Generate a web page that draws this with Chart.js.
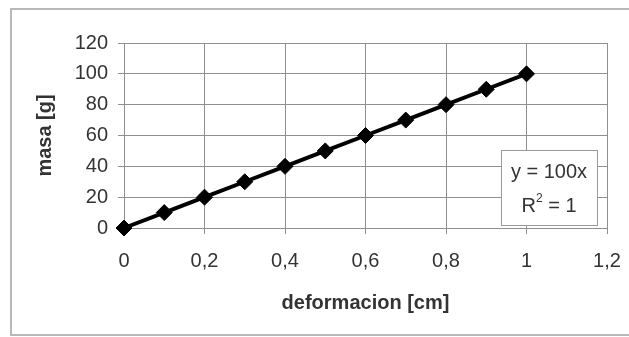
<!DOCTYPE html>
<html>
<head>
<meta charset="utf-8">
<script src="https://cdn.jsdelivr.net/npm/chart.js@4"></script>
<style>
  body { margin: 0; background: #fff; }
  canvas { display: block; }
</style>
</head>
<body>
<canvas id="chart" width="629" height="337"></canvas>
<script>
// deformacion [cm] vs masa [g]
const deformacion = [0, 0.1, 0.2, 0.3, 0.4, 0.5, 0.6, 0.7, 0.8, 0.9, 1];
const masa = [0, 10, 20, 30, 40, 50, 60, 70, 80, 90, 100];
const xTickLabels = ['0', '0,2', '0,4', '0,6', '0,8', '1', '1,2'];
const yTickLabels = ['0', '20', '40', '60', '80', '100', '120'];
const trendText = ['y = 100x', 'R', '2', ' = 1'];

Chart.defaults.font.family = '"Liberation Sans", Arial, sans-serif';
Chart.defaults.color = '#333';

const gridColor = '#8f8f8f';

// outer chart frame
const framePlugin = {
    id: 'frame',
    beforeDraw(chart) {
        const ctx = chart.ctx;
        ctx.save();
        ctx.strokeStyle = '#b8b8b8';
        ctx.lineWidth = 2;
        ctx.strokeRect(11, 9, chart.width + 20, chart.height - 11);
        ctx.restore();
    }
};

// trendline label box
const trendBox = {
    id: 'trendBox',
    afterDraw(chart) {
        const ctx = chart.ctx;
        const area = chart.chartArea;
        const right = area.right - 10;
        const left = right - 96;
        const top = 150;
        const bottom = 225;
        ctx.save();
        ctx.fillStyle = '#fff';
        ctx.fillRect(left, top, right - left, bottom - top);
        ctx.strokeStyle = '#9a9a9a';
        ctx.lineWidth = 1;
        ctx.strokeRect(left + 0.5, top + 0.5, right - left, bottom - top);
        const cx = (left + right) / 2;
        ctx.fillStyle = '#333';
        ctx.font = '20px "Liberation Sans", Arial, sans-serif';
        ctx.textAlign = 'center';
        ctx.textBaseline = 'alphabetic';
        ctx.fillText(trendText[0], cx, 178);
        // R² = 1
        const big = '20px "Liberation Sans", Arial, sans-serif';
        const small = '12px "Liberation Sans", Arial, sans-serif';
        ctx.font = big;
        const wR = ctx.measureText(trendText[1]).width;
        const wRest = ctx.measureText(trendText[3]).width;
        ctx.font = small;
        const w2 = ctx.measureText(trendText[2]).width;
        let x = cx - (wR + w2 + wRest) / 2;
        ctx.textAlign = 'left';
        ctx.font = big;
        ctx.fillText(trendText[1], x, 212);
        x += wR;
        ctx.font = small;
        ctx.fillText(trendText[2], x, 202);
        x += w2;
        ctx.font = big;
        ctx.fillText(trendText[3], x, 212);
        ctx.restore();
    }
};

new Chart(document.getElementById('chart'), {
    type: 'scatter',
    data: {
        datasets: [{
            label: 'masa',
            data: deformacion.map((x, i) => ({ x: x, y: masa[i] })),
            showLine: true,
            clip: false,
            borderColor: '#000',
            borderWidth: 4,
            backgroundColor: '#000',
            pointStyle: 'rectRot',
            pointRadius: 8,
            pointBorderWidth: 1,
            pointBorderColor: '#000',
            pointBackgroundColor: '#000'
        }]
    },
    options: {
        responsive: false,
        animation: false,
        layout: { padding: { top: 43, right: 22, bottom: 0, left: 0 } },
        plugins: {
            legend: { display: false },
            tooltip: { enabled: false }
        },
        scales: {
            x: {
                type: 'linear',
                min: 0,
                max: 1.2,
                ticks: {
                    stepSize: 0.2,
                    padding: 15,
                    font: { size: 20 },
                    color: '#333',
                    maxRotation: 0,
                    callback: (v, i) => xTickLabels[i]
                },
                grid: { color: gridColor, tickLength: 6, tickColor: gridColor },
                border: { color: gridColor },
                title: {
                    display: true,
                    text: 'deformacion [cm]',
                    font: { size: 20, weight: 'bold' },
                    color: '#333',
                    padding: { top: 0, bottom: 22 }
                },
                afterFit: s => {
                    s.height = 109;
                    s.paddingLeft = 0;
                    s.paddingRight = 0;
                }
            },
            y: {
                min: 0,
                max: 120,
                ticks: {
                    stepSize: 20,
                    padding: 10,
                    font: { size: 20 },
                    color: '#333',
                    callback: (v, i) => yTickLabels[i]
                },
                grid: { color: gridColor, tickLength: 6, tickColor: gridColor },
                border: { color: gridColor },
                title: {
                    display: true,
                    text: 'masa [g]',
                    font: { size: 20, weight: 'bold' },
                    color: '#333',
                    padding: { top: 33, bottom: 0 }
                },
                afterFit: s => { s.width = 124; }
            }
        }
    },
    plugins: [framePlugin, trendBox]
});
</script>
</body>
</html>
